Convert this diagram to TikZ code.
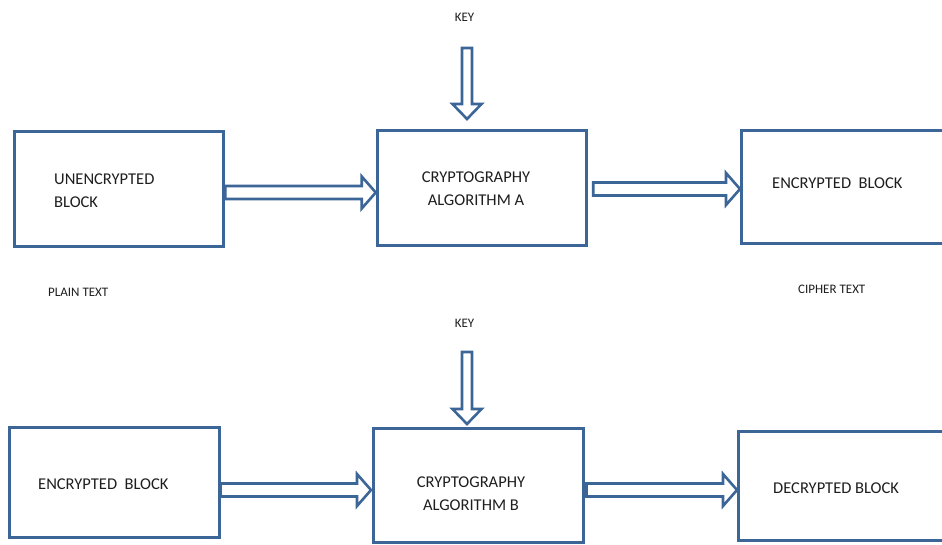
\documentclass[tikz,border=0pt]{standalone}
\usepackage{fontspec}
\setmainfont{Carlito}
\usetikzlibrary{calc}
\definecolor{boxblue}{HTML}{3C6598}
\definecolor{txt}{HTML}{1E1E1E}
\tikzset{
  blockbox/.style={draw=boxblue, line width=3pt, minimum width=#1, inner sep=0pt},
  blockarrow/.style={draw=boxblue, line width=2.6pt, fill=white, line join=miter},
  boxtext/.style={text=txt, font=\fontsize{16.5}{23}\selectfont, inner sep=0pt, align=left},
  boxtextc/.style={text=txt, font=\fontsize{16.5}{23}\selectfont, inner sep=0pt, align=center},
  smalltext/.style={text=txt, font=\fontsize{13}{15}\selectfont, inner sep=0pt}
}
\newcommand\harrow[2]{\draw[blockarrow] let \p1=(#1), \p2=(#2) in
  (\x1,\y1+6.5) -- (\x2-14,\y1+6.5) -- (\x2-14,\y1+16) -- (\x2,\y1) --
  (\x2-14,\y1-16) -- (\x2-14,\y1-6.5) -- (\x1,\y1-6.5) -- cycle;}
\newcommand\varrow[2]{\draw[blockarrow] let \p1=(#1), \p2=(#2) in
  (\x1-5,\y1) -- (\x1-5,\y2+15) -- (\x1-14.5,\y2+15) -- (\x1,\y2) --
  (\x1+14.5,\y2+15) -- (\x1+5,\y2+15) -- (\x1+5,\y1) -- cycle;}
\begin{document}
\begin{tikzpicture}[x=1pt,y=-1pt]
\useasboundingbox[fill=white] (0,0) rectangle (942,544);
% top row boxes
\node[blockbox=209.5pt, minimum height=114.5pt] (b1) at (119,188.75) {};
\node[blockbox=209.5pt, minimum height=114.5pt] (b2) at (482,188) {};
\node[blockbox=218pt, minimum height=113pt] (b3) at (850.5,187) {};
% bottom row boxes
\node[blockbox=209.5pt, minimum height=110pt] (b4) at (114.25,482.5) {};
\node[blockbox=209.5pt, minimum height=114pt] (b5) at (478.25,485) {};
\node[blockbox=221pt, minimum height=109pt] (b6) at (849,485.5) {};
% texts in boxes
\node[boxtext, anchor=west] (t1) at (54,190.5) {UNENCRYPTED\\BLOCK};
\node[boxtextc] (t2) at (476,188.5) {CRYPTOGRAPHY\\ALGORITHM A};
\node[boxtext, anchor=west] (t3) at (772,183.5) {ENCRYPTED\ \ BLOCK};
\node[boxtext, anchor=west] (t4) at (38,484.5) {ENCRYPTED\ \ BLOCK};
\node[boxtextc] (t5) at (471,493.5) {CRYPTOGRAPHY\\ALGORITHM B};
\node[boxtext, anchor=west] (t6) at (773,488.5) {DECRYPTED BLOCK};
% small labels
\node[smalltext] (key1) at (464.5,17) {KEY};
\node[smalltext] (key2) at (464.5,323) {KEY};
\node[smalltext, anchor=west] (plain) at (48,292) {PLAIN TEXT};
\node[smalltext, anchor=west] (cipher) at (798,289.5) {CIPHER TEXT};
% key arrow end points
\coordinate (k1s) at (467,48);
\coordinate (k1e) at (467,119);
\coordinate (k2s) at (467,352);
\coordinate (k2e) at (467,424);
\varrow{k1s}{k1e}
\varrow{k2s}{k2e}
% horizontal arrows
\coordinate (a1s) at ($(b1.east)+(0,3.75)$);
\coordinate (a1e) at ($(b2.west)+(0,4.5)$);
\harrow{a1s}{a1e}
\coordinate (a2s) at ($(b2.east)+(5,1)$);
\coordinate (a2e) at ($(b3.west)+(0,2)$);
\harrow{a2s}{a2e}
\coordinate (a3s) at ($(b4.east)+(0,7.5)$);
\coordinate (a3e) at ($(b5.west)+(-1,5)$);
\harrow{a3s}{a3e}
\coordinate (a4s) at ($(b5.east)+(2,5)$);
\coordinate (a4e) at ($(b6.west)+(0,4.5)$);
\harrow{a4s}{a4e}
\end{tikzpicture}
\end{document}
